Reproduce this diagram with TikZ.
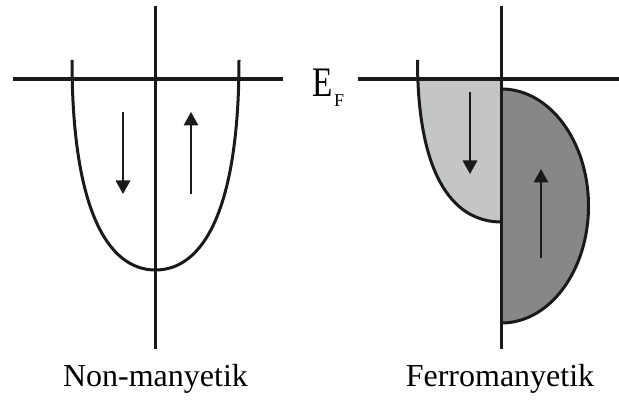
\documentclass[tikz,border=0pt]{standalone}
\usepackage{fontspec}
\setmainfont{Liberation Serif}
\usetikzlibrary{arrows.meta}
\definecolor{lightband}{HTML}{C4C6C5}
\definecolor{darkband}{HTML}{878787}
\definecolor{ink}{HTML}{1A1A1A}
\tikzset{
  axis/.style={draw=ink, line width=3.4pt},
  curve/.style={draw=ink, line width=3pt},
  spinarrow/.style={draw=ink, line width=1.8pt, -{Triangle[width=14.5pt,length=13.5pt]}},
  lbl/.style={font=\fontsize{32}{36}\selectfont, anchor=base, inner sep=0pt}
}
\begin{document}
\begin{tikzpicture}[x=1pt,y=1pt]
\useasboundingbox (0,0) rectangle (619,401);
% ---------- left: non-magnetic ----------
\draw[curve] (72,341) .. controls (72,191) and (108,131) .. (155.5,131)
  .. controls (203,131) and (239,191) .. (239,341);
\draw[axis] (13,322) -- (283,322);
\draw[axis] (155.5,395) -- (155.5,52);
\coordinate (ldA) at (123,289); \coordinate (ldB) at (123,207);
\coordinate (luA) at (191,207); \coordinate (luB) at (191,289);
\draw[spinarrow] (ldA) -- (ldB);
\draw[spinarrow] (luA) -- (luB);
\node[lbl] (nonmag) at (155.5,14) {Non-manyetik};
% ---------- right: ferromagnetic ----------
\fill[darkband] (501.5,312) arc[start angle=90, end angle=-90, x radius=87, y radius=117] -- cycle;
\draw[curve] (501.5,312) arc[start angle=90, end angle=-90, x radius=87, y radius=117];
\begin{scope}
  \clip (0,0) rectangle (619,322);
  \fill[lightband] (417.5,341) .. controls (417.5,231) and (450,179) .. (501.5,179) -- (501.5,341) -- cycle;
\end{scope}
\draw[curve] (417.5,341) .. controls (417.5,231) and (450,179) .. (501.5,179);
\draw[axis] (358,322) -- (619,322);
\draw[axis] (501.5,395) -- (501.5,52);
\coordinate (rdA) at (470,309); \coordinate (rdB) at (470,227);
\coordinate (ruA) at (541,143); \coordinate (ruB) at (541,232);
\draw[spinarrow] (rdA) -- (rdB);
\draw[spinarrow] (ruA) -- (ruB);
\node[lbl] (ferro) at (500,14) {Ferromanyetik};
% ---------- Fermi level label ----------
\node[anchor=base west, inner sep=0pt, font=\fontsize{35}{40}\selectfont] (ef) at (312.5,304) {\scalebox{0.95}[1.2]{E}};
\node[anchor=base west, inner sep=0pt, font=\fontsize{18}{22}\selectfont] (efsub) at (334,294) {F};
\end{tikzpicture}
\end{document}
